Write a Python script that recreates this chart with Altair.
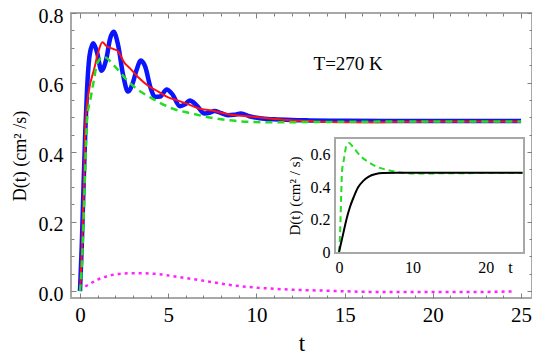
import altair as alt
import pandas as pd

# ---------------- data ----------------
t_blue = [0, 0.1, 0.2, 0.3, 0.4, 0.55, 0.75, 0.95, 1.22, 1.5, 1.7, 1.91, 2.15, 2.45, 2.72,
          3.0, 3.2, 3.45, 3.7, 4.0, 4.25, 4.55, 4.91, 5.25, 5.66, 5.95, 6.22, 6.6, 7.06,
          7.35, 7.62, 8.0, 8.37, 8.75, 9.12, 9.6, 10.2, 11, 12, 13, 15, 18, 21, 25]
d_blue = [0, 0.13, 0.3, 0.46, 0.58, 0.68, 0.713, 0.69, 0.634, 0.67, 0.725, 0.746, 0.71,
          0.62, 0.574, 0.6, 0.635, 0.663, 0.645, 0.585, 0.559, 0.56, 0.58, 0.565, 0.532,
          0.537, 0.548, 0.535, 0.511, 0.513, 0.518, 0.512, 0.506, 0.507, 0.511, 0.503,
          0.497, 0.494, 0.492, 0.491, 0.49, 0.489, 0.489, 0.489]

t_red = [0, 0.1, 0.2, 0.32, 0.51, 0.79, 1.07, 1.27, 1.5, 1.91, 2.15, 2.5, 2.85, 3.3, 3.88,
         4.44, 5.0, 5.56, 6.12, 6.69, 7.62, 8.56, 9.5, 10.24, 11.5, 13, 15, 16.5, 18, 20, 22, 25]
d_red = [0, 0.11, 0.27, 0.492, 0.578, 0.636, 0.694, 0.716, 0.705, 0.696, 0.69, 0.658, 0.64,
         0.615, 0.59, 0.574, 0.557, 0.548, 0.538, 0.526, 0.518, 0.507, 0.503, 0.499, 0.493,
         0.489, 0.486, 0.486, 0.487, 0.488, 0.488, 0.488]

t_green = [0, 0.1, 0.2, 0.3, 0.41, 0.6, 0.79, 0.97, 1.35, 1.91, 2.57, 3.31, 4.06, 5.19,
           6.31, 7.62, 8.93, 10.24, 12, 15, 20, 25]
d_green = [0, 0.07, 0.2, 0.36, 0.5, 0.555, 0.607, 0.655, 0.674, 0.65, 0.612, 0.578, 0.555,
           0.526, 0.511, 0.497, 0.489, 0.486, 0.486, 0.487, 0.488, 0.488]

t_mag = [0.3, 0.6, 1.0, 1.5, 2.0, 2.75, 3.5, 4.4, 5.5, 6.7, 7.7, 8.6, 9.5, 10.5, 12, 14,
         16, 18, 20, 22, 24.5]
d_mag = [0.013, 0.022, 0.033, 0.042, 0.048, 0.051, 0.051, 0.049, 0.041, 0.032, 0.024, 0.017,
         0.012, 0.008, 0.004, 0.001, -0.002, -0.003, -0.003, -0.003, -0.001]

t_black = [0, 0.3, 0.6, 1.0, 1.5, 2.0, 2.6, 3.3, 4.0, 5.0, 6.0, 8, 12, 18, 25]
d_black = [0, 0.06, 0.12, 0.2, 0.28, 0.34, 0.4, 0.44, 0.465, 0.482, 0.488, 0.49, 0.49, 0.49, 0.49]

x_major = [0, 5, 10, 15, 20, 25]
x_minor = list(range(0, 26))
y_major = [0.0, 0.2, 0.4, 0.6, 0.8]
y_minor = [round(i * 0.05, 2) for i in range(0, 17)]
ix_labels = [0, 10, 20, 23.3]
ix_ticks = [0, 5, 10, 15, 20, 25]
iy_labels = [0.0, 0.2, 0.4, 0.6]
iy_ticks = [0.0, 0.1, 0.2, 0.3, 0.4, 0.5, 0.6, 0.7]

annotation = "T=270 K"
y_title = "D(t)    (cm² /s)"
inset_y_title = "D(t)     (cm² / s)"
x_title = "t"

# ---------------- layout / style ----------------
SERIF = "Liberation Serif"
FRAME = "#a8a8a8"
TICK = "#808080"
PW, PH = 461, 285
X_DOM = [-0.51, 25.62]
Y_DOM = [-0.02, 0.8]
IX_DOM = [-0.55, 25.2]
IX_RANGE = [264, 453]
IY_DOM = [-0.006, 0.705]
IY_RANGE = [240, 125]
INSET_BOTTOM_OFF = PH - IY_RANGE[0]
INSET_LEFT_OFF = IX_RANGE[0]


def xs():
    return alt.Scale(domain=X_DOM, nice=False, zero=False)


def ys():
    return alt.Scale(domain=Y_DOM, nice=False, zero=False)


def ixs():
    return alt.Scale(domain=IX_DOM, range=IX_RANGE, nice=False, zero=False)


def iys():
    return alt.Scale(domain=IY_DOM, range=IY_RANGE, nice=False, zero=False)


def tick_axis(orient, values, size, offset_base=0):
    return alt.Axis(orient=orient, values=values, labels=False, domain=False, grid=False,
                    ticks=True, tickSize=size, tickColor=TICK, tickWidth=1,
                    offset=-(offset_base + size), title=None)


ax_x_lab = alt.Axis(orient="bottom", values=x_major, ticks=False, domain=False, grid=False,
                    labelFont=SERIF, labelFontSize=21, labelColor="black", labelPadding=6,
                    labelFlush=False, labelOverlap=False,
                    title=x_title, titleFont=SERIF, titleFontSize=23,
                    titleFontWeight="normal", titleColor="black", titlePadding=7)
ax_y_lab = alt.Axis(orient="left", values=y_major, format=".1f", ticks=False, domain=False,
                    grid=False, labelFont=SERIF, labelFontSize=20, labelColor="black",
                    labelPadding=8, labelOffset=3, labelFlush=False, labelOverlap=False,
                    title=y_title, titleFont=SERIF, titleFontSize=18,
                    titleFontWeight="normal", titleColor="black", titlePadding=9)


def frame(mark, xaxis, yaxis, xscale, yscale):
    return mark.encode(
        x=alt.X("t:Q", scale=xscale, axis=xaxis),
        y=alt.Y("D:Q", scale=yscale, axis=yaxis),
    )


df_blue = pd.DataFrame({"t": t_blue, "D": d_blue})
df_red = pd.DataFrame({"t": t_red, "D": d_red})
df_green = pd.DataFrame({"t": t_green, "D": d_green})
df_mag = pd.DataFrame({"t": t_mag, "D": d_mag})
df_black = pd.DataFrame({"t": t_black, "D": d_black})
df_text = pd.DataFrame({"t": [15.2], "D": [0.652], "label": [annotation]})
df_box = pd.DataFrame({"x0": [IX_DOM[0]], "x1": [IX_DOM[1]], "y0": [IY_DOM[0]], "y1": [IY_DOM[1]]})

blue = frame(alt.Chart(df_blue).mark_line(color="#0a14ff", strokeWidth=4.5,
                                          interpolate="monotone"),
             ax_x_lab, ax_y_lab, xs(), ys())
red = frame(alt.Chart(df_red).mark_line(color="#ff1010", strokeWidth=2,
                                        interpolate="monotone"),
            tick_axis("bottom", x_major, 5), tick_axis("left", y_major, 5), xs(), ys())
green = frame(alt.Chart(df_green).mark_line(color="#22dd22", strokeWidth=2.5,
                                            strokeDash=[7, 5], interpolate="monotone"),
              tick_axis("bottom", x_minor, 3), tick_axis("left", y_minor, 3), xs(), ys())
mag = frame(alt.Chart(df_mag).mark_line(color="#ff22ff", strokeWidth=2.5,
                                        strokeDash=[3, 4], interpolate="monotone"),
            tick_axis("top", x_major, 5), tick_axis("right", y_major, 5), xs(), ys())
text = alt.Chart(df_text).mark_text(font=SERIF, fontSize=19, color="black", align="center",
                                    baseline="middle").encode(
    x=alt.X("t:Q", scale=xs(), axis=tick_axis("top", x_minor, 3)),
    y=alt.Y("D:Q", scale=ys(), axis=tick_axis("right", y_minor, 3)),
    text="label:N",
)

# ---------------- inset ----------------
IX_LABEL_EXPR = "datum.value > 21 ? 't' : datum.label"
IY_LABEL_EXPR = "datum.value == 0 ? '0' : format(datum.value, '.1f')"

ax_ix_lab = alt.Axis(orient="bottom", values=ix_labels, ticks=False, domain=False, grid=False,
                     labelFont=SERIF, labelFontSize=16, labelColor="black", labelPadding=6,
                     labelFlush=False, labelOverlap=False, labelExpr=IX_LABEL_EXPR,
                     offset=-INSET_BOTTOM_OFF, title=None)
ax_iy_lab = alt.Axis(orient="left", values=iy_labels, ticks=False, domain=False, grid=False,
                     labelFont=SERIF, labelFontSize=16, labelColor="black", labelPadding=5,
                     labelFlush=False, labelOverlap=False, labelExpr=IY_LABEL_EXPR,
                     offset=-INSET_LEFT_OFF, title=inset_y_title, titleFont=SERIF,
                     titleFontSize=15, titleFontWeight="normal", titleColor="black",
                     titlePadding=8)

box = alt.Chart(df_box).mark_rect(fill="white", stroke=FRAME, strokeWidth=2).encode(
    x=alt.X("x0:Q", scale=ixs(), axis=ax_ix_lab),
    x2="x1:Q",
    y=alt.Y("y0:Q", scale=iys(), axis=ax_iy_lab),
    y2="y1:Q",
)
black = frame(alt.Chart(df_black).mark_line(color="black", strokeWidth=2,
                                            interpolate="monotone"),
              tick_axis("bottom", ix_ticks, 3, INSET_BOTTOM_OFF),
              tick_axis("left", iy_ticks, 3, INSET_LEFT_OFF), ixs(), iys())
igreen = alt.Chart(df_green).mark_line(color="#22dd22", strokeWidth=2, strokeDash=[6, 4],
                                       interpolate="monotone").encode(
    x=alt.X("t:Q", scale=ixs(), axis=None),
    y=alt.Y("D:Q", scale=iys(), axis=None),
)

chart = alt.layer(blue, red, green, mag, text, box, igreen, black).resolve_scale(
    x="independent", y="independent"
).resolve_axis(
    x="independent", y="independent"
).properties(
    width=PW, height=PH,
    autosize=alt.AutoSizeParams(type="none"),
    padding={"left": 63, "top": 5, "right": 0, "bottom": 57},
    background="white",
).configure(
    font=SERIF
).configure_axis(
    labelFont=SERIF, titleFont=SERIF
).configure_text(
    font=SERIF
).configure_view(
    stroke=FRAME, strokeWidth=2
)

chart.save("out.html", embed_options={"renderer": "svg", "actions": False})
